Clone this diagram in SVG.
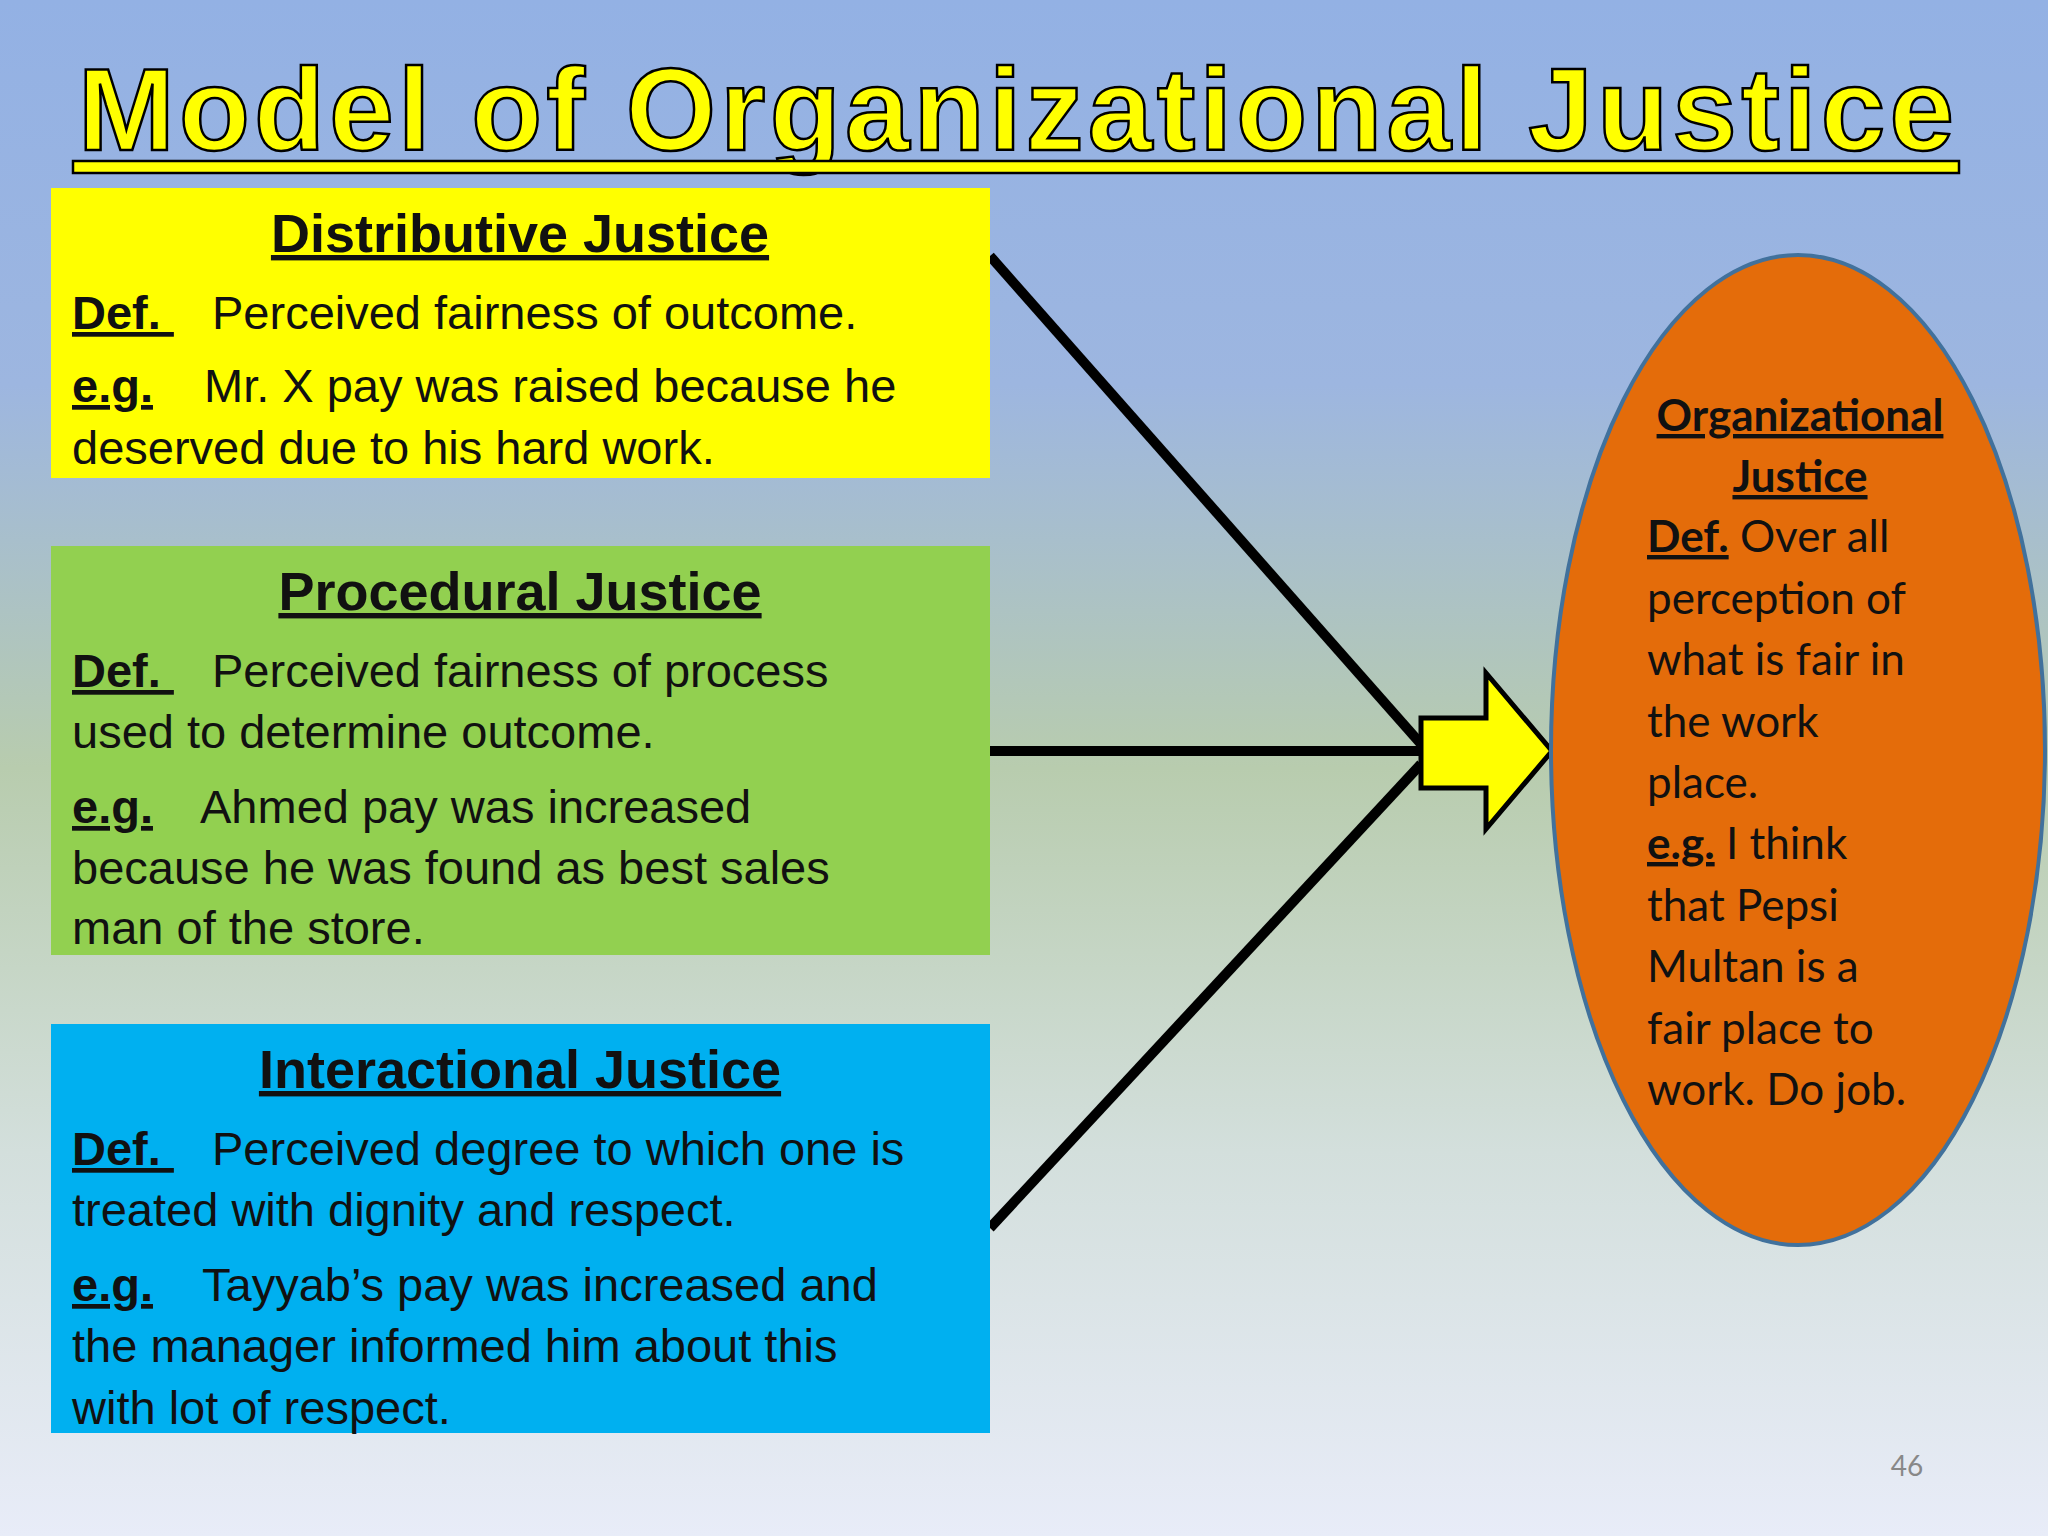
<svg xmlns="http://www.w3.org/2000/svg" width="2048" height="1536" viewBox="0 0 2048 1536">
<defs>
<linearGradient id="bg" x1="0" y1="0" x2="0" y2="1">
<stop offset="0" stop-color="#93B1E4"/>
<stop offset="0.25" stop-color="#9DB6E0"/>
<stop offset="0.5" stop-color="#B8CCAE"/>
<stop offset="0.75" stop-color="#D3DFDC"/>
<stop offset="1" stop-color="#E8ECF8"/>
</linearGradient>
<style>
.b{font-family:"Liberation Sans",Arial,sans-serif;font-size:47px;fill:#111}
.h{font-family:"Liberation Sans",Arial,sans-serif;font-size:54px;font-weight:bold;text-decoration:underline;fill:#111}
.u{font-weight:bold;text-decoration:underline}
.e{font-family:Lato,"Open Sans",sans-serif;font-size:44px;fill:#111}
.ln{stroke:#000;stroke-width:10;fill:none}
</style>
</defs>
<rect width="2048" height="1536" fill="url(#bg)"/>
<g id="title">
<text x="78" y="150" font-family="Liberation Sans,Arial,sans-serif" font-size="116" font-weight="bold" fill="#FFFF00" stroke="#000" stroke-width="2.5" textLength="1876">Model of Organizational Justice</text>
<rect x="73" y="161" width="1886" height="12" fill="#FFFF00" stroke="#000" stroke-width="2.5"/>
</g>
<g id="connectors">
<line class="ln" x1="990" y1="256" x2="1421" y2="744"/>
<line class="ln" x1="990" y1="751" x2="1421" y2="751"/>
<line class="ln" x1="990" y1="1228" x2="1421" y2="764"/>
<polygon points="1421,718 1486,718 1486,673 1552,751 1486,829 1486,788 1421,788" fill="#FFFF00" stroke="#000" stroke-width="5"/>
</g>
<g id="distributive">
<rect x="51" y="188" width="939" height="290" fill="#FFFF00"/>
<text class="h" x="520" y="252" text-anchor="middle">Distributive Justice</text>
<text class="b" x="72" y="329"><tspan class="u">Def.&#160;</tspan>  <tspan x="212">Perceived fairness of outcome.</tspan></text>
<text class="b" x="72" y="402"><tspan class="u">e.g.</tspan><tspan x="204">Mr. X pay was raised because he</tspan></text>
<text class="b" x="72" y="464">deserved due to his hard work.</text>
</g>
<g id="procedural">
<rect x="51" y="546" width="939" height="409" fill="#92D050"/>
<text class="h" x="520" y="610" text-anchor="middle">Procedural Justice</text>
<text class="b" x="72" y="687"><tspan class="u">Def.&#160;</tspan><tspan x="212">Perceived fairness of process</tspan></text>
<text class="b" x="72" y="748">used to determine outcome.</text>
<text class="b" x="72" y="823"><tspan class="u">e.g.</tspan><tspan x="200">Ahmed pay was increased</tspan></text>
<text class="b" x="72" y="884">because he was found as best sales</text>
<text class="b" x="72" y="944">man of the store.</text>
</g>
<g id="interactional">
<rect x="51" y="1024" width="939" height="409" fill="#00B0F0"/>
<text class="h" x="520" y="1088" text-anchor="middle">Interactional Justice</text>
<text class="b" x="72" y="1165"><tspan class="u">Def.&#160;</tspan><tspan x="212">Perceived degree to which one is</tspan></text>
<text class="b" x="72" y="1226">treated with dignity and respect.</text>
<text class="b" x="72" y="1301"><tspan class="u">e.g.</tspan><tspan x="202">Tayyab’s pay was increased and</tspan></text>
<text class="b" x="72" y="1362">the manager informed him about this</text>
<text class="b" x="72" y="1424">with lot of respect.</text>
</g>
<g id="organizational">
<ellipse cx="1798" cy="750" rx="247" ry="495" fill="#E46C0A" stroke="#41719C" stroke-width="4"/>
<text class="e" x="1800" y="431" text-anchor="middle" font-weight="bold" text-decoration="underline">Organizational</text>
<text class="e" x="1800" y="492" text-anchor="middle" font-weight="bold" text-decoration="underline">Justice</text>
<text class="e" x="1647" y="552"><tspan class="u">Def.</tspan> Over all</text>
<text class="e" x="1647" y="614">perception of</text>
<text class="e" x="1647" y="675">what is fair in</text>
<text class="e" x="1647" y="737">the work</text>
<text class="e" x="1647" y="798">place.</text>
<text class="e" x="1647" y="859"><tspan class="u">e.g.</tspan>  I think</text>
<text class="e" x="1647" y="921">that Pepsi</text>
<text class="e" x="1647" y="982">Multan is a</text>
<text class="e" x="1647" y="1044">fair place to</text>
<text class="e" x="1647" y="1105">work. Do job.</text>
</g>
<text x="1907" y="1476" text-anchor="middle" font-family="Lato,sans-serif" font-size="28" fill="#888">46</text>
</svg>
